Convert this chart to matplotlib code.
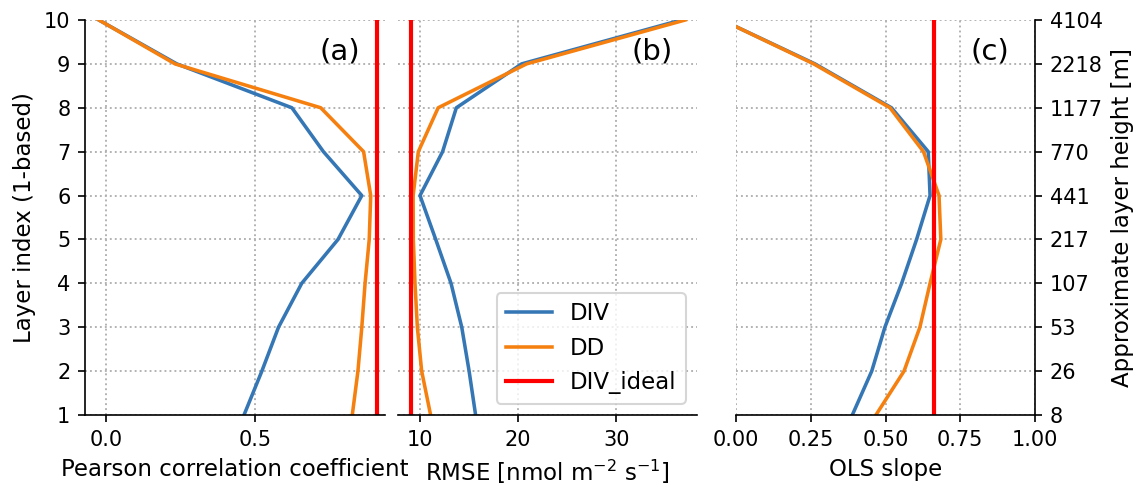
import numpy as np
import matplotlib
matplotlib.use('Agg')
from matplotlib import pyplot as plt

plt.rcParams['font.size'] = 11
plt.rcParams['xtick.labelsize'] = 10
plt.rcParams['ytick.labelsize'] = 10

# layer index and approximate heights
layers  = [1, 2, 3, 4, 5, 6, 7, 8, 9, 10]
heights = ['8', '26', '53', '107', '217', '441', '770', '1177', '2218', '4104']

# (a) Pearson correlation
r_div = [0.464, 0.524, 0.58, 0.658, 0.78, 0.86, 0.731, 0.625, 0.238, -0.024]
r_dd  = [0.828, 0.847, 0.86, 0.871, 0.885, 0.89, 0.866, 0.722, 0.232, -0.024]
r_ideal = 0.91

# (b) RMSE
rmse_div = [15.66, 15.0, 14.25, 13.16, 11.6, 10.0, 12.3, 13.7, 20.35, 36.6]
rmse_dd  = [11.08, 10.17, 9.73, 9.49, 9.32, 9.3, 9.83, 11.85, 20.85, 37.0]
rmse_ideal = 9.05

# (c) OLS slope
s_div = [0.389, 0.454, 0.498, 0.554, 0.604, 0.649, 0.643, 0.52, 0.264, -0.047]
s_dd  = [0.468, 0.562, 0.615, 0.649, 0.685, 0.679, 0.627, 0.515, 0.26, -0.047]
s_ideal = 0.662

c_div = '#3576b5'
c_dd = '#f5800f'
c_ideal = 'red'
lw = 1.7

fig = plt.figure(figsize=(7.6, 3.2267), dpi=150)
W, H = 1140., 484.
def place(x0, x1):
  return fig.add_axes([x0/W, (H-415)/H, (x1-x0)/W, 395/H])

ax_a = place(85, 385)
ax_b = place(398, 697)
ax_c = place(736, 1035)

## (a)
ax_a.plot(r_div, layers, color=c_div, lw=lw, label='DIV')
ax_a.plot(r_dd, layers, color=c_dd, lw=lw, label='DD')
ax_a.axvline(r_ideal, color=c_ideal, lw=2, label='DIV_ideal')
ax_a.set_xlim(-0.0706, 0.938)
ax_a.set_xticks([0.0, 0.5])
ax_a.set_xlabel('Pearson correlation coefficient')
ax_a.set_ylabel('Layer index (1-based)')
ax_a.spines[['top', 'right']].set_visible(False)

## (b)
ax_b.plot(rmse_div, layers, color=c_div, lw=lw, label='DIV')
ax_b.plot(rmse_dd, layers, color=c_dd, lw=lw, label='DD')
ax_b.axvline(rmse_ideal, color=c_ideal, lw=2, label='DIV_ideal')
ax_b.set_xlim(7.76, 38.2)
ax_b.set_xticks([10, 20, 30])
ax_b.set_xlabel(r'RMSE [nmol m$^{-2}$ s$^{-1}$]')
ax_b.tick_params(axis='y', left=False, labelleft=False)
ax_b.spines[['top', 'right', 'left']].set_visible(False)
ax_b.legend(loc='lower right')

## (c)
ax_c.plot(s_div, layers, color=c_div, lw=lw, label='DIV')
ax_c.plot(s_dd, layers, color=c_dd, lw=lw, label='DD')
ax_c.axvline(s_ideal, color=c_ideal, lw=2, label='DIV_ideal')
ax_c.set_xlim(0, 1)
ax_c.set_xticks([0, 0.25, 0.5, 0.75, 1.0])
ax_c.set_xlabel('OLS slope')
ax_c.yaxis.tick_right()
ax_c.yaxis.set_label_position('right')
ax_c.set_ylabel('Approximate layer height [m]')
ax_c.spines[['top', 'left']].set_visible(False)

for ax, lab in zip([ax_a, ax_b, ax_c], ['(a)', '(b)', '(c)']):
  ax.set_ylim(1, 10)
  ax.set_yticks(layers)
  ax.grid(True, linestyle=':', color='#b0b0b0', lw=0.9)
  ax.text(0.85, 0.92, lab, transform=ax.transAxes, ha='center', va='center', fontsize=14)

ax_a.set_yticklabels([str(l) for l in layers])
ax_c.set_yticklabels(heights)

fig.savefig('out.png', dpi=150)
